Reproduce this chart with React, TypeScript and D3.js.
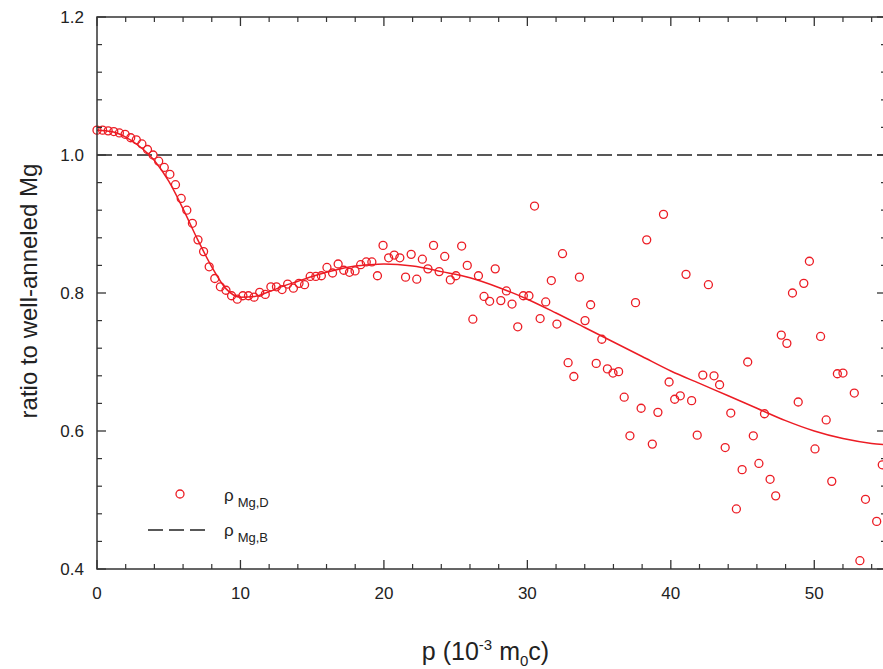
import React from "react";
import * as d3 from "d3";

// momentum p (10^-3 m0c) of the measured points
const pD: number[] = [
  0.0, 0.39, 0.78, 1.17, 1.56, 1.96, 2.35, 2.74, 3.13, 3.52,
  3.91, 4.3, 4.69, 5.08, 5.47, 5.87, 6.26, 6.65, 7.04, 7.43,
  7.82, 8.21, 8.6, 8.99, 9.38, 9.78, 10.17, 10.56, 10.95, 11.34,
  11.73, 12.12, 12.51, 12.9, 13.29, 13.69, 14.08, 14.47, 14.86, 15.25,
  15.64, 16.03, 16.42, 16.81, 17.2, 17.6, 17.99, 18.38, 18.77, 19.16,
  19.55, 19.94, 20.33, 20.72, 21.11, 21.51, 21.9, 22.29, 22.68, 23.07,
  23.46, 23.85, 24.24, 24.63, 25.02, 25.42, 25.81, 26.2, 26.59, 26.98,
  27.37, 27.76, 28.15, 28.54, 28.93, 29.33, 29.72, 30.11, 30.5, 30.89,
  31.28, 31.67, 32.06, 32.45, 32.84, 33.24, 33.63, 34.02, 34.41, 34.8,
  35.19, 35.58, 35.97, 36.36, 36.75, 37.15, 37.54, 37.93, 38.32, 38.71,
  39.1, 39.49, 39.88, 40.27, 40.66, 41.06, 41.45, 41.84, 42.23, 42.62,
  43.01, 43.4, 43.79, 44.18, 44.57, 44.97, 45.36, 45.75, 46.14, 46.53,
  46.92, 47.31, 47.7, 48.09, 48.48, 48.88, 49.27, 49.66, 50.05, 50.44,
  50.83, 51.22, 51.61, 52.0, 52.79, 53.18, 53.57, 54.35, 54.74,
];

// rho_Mg,D : ratio to well-annealed Mg
const rhoD: number[] = [
  1.036, 1.036, 1.035, 1.034, 1.032, 1.03, 1.025, 1.022, 1.016, 1.008,
  1.0, 0.991, 0.982, 0.972, 0.957, 0.937, 0.92, 0.901, 0.877, 0.86,
  0.838, 0.821, 0.809, 0.804, 0.796, 0.791, 0.796, 0.796, 0.794, 0.801,
  0.798, 0.809, 0.809, 0.805, 0.813, 0.807, 0.814, 0.812, 0.824, 0.824,
  0.825, 0.837, 0.829, 0.842, 0.833, 0.83, 0.832, 0.841, 0.845, 0.845,
  0.825, 0.869, 0.851, 0.855, 0.851, 0.823, 0.856, 0.82, 0.849, 0.835,
  0.869, 0.831, 0.853, 0.819, 0.825, 0.868, 0.84, 0.762, 0.825, 0.795,
  0.788, 0.835, 0.789, 0.803, 0.784, 0.751, 0.796, 0.796, 0.926, 0.763,
  0.787, 0.818, 0.755, 0.857, 0.699, 0.679, 0.823, 0.76, 0.783, 0.698,
  0.733, 0.69, 0.684, 0.686, 0.649, 0.593, 0.786, 0.633, 0.877, 0.581,
  0.627, 0.914, 0.671, 0.646, 0.651, 0.827, 0.644, 0.594, 0.681, 0.812,
  0.68, 0.667, 0.576, 0.626, 0.487, 0.544, 0.7, 0.593, 0.553, 0.625,
  0.53, 0.506, 0.739, 0.727, 0.8, 0.642, 0.814, 0.846, 0.574, 0.737,
  0.616, 0.527, 0.683, 0.684, 0.655, 0.412, 0.501, 0.469, 0.551,
];

// smooth fitted curve
const pFit: number[] = [0, 1, 2, 3, 4, 5, 6, 7, 8, 9, 10, 11, 12, 13, 14, 15, 16, 17, 18, 19, 20, 22, 24, 26, 28, 30, 32, 34, 36, 38, 40, 42, 44, 46, 48, 50, 52, 54, 55];
const rhoFit: number[] = [1.036, 1.034, 1.026, 1.012, 0.992, 0.962, 0.922, 0.878, 0.838, 0.806, 0.794, 0.795, 0.802, 0.81, 0.817, 0.824, 0.83, 0.835, 0.839, 0.841, 0.842, 0.839, 0.831, 0.822, 0.808, 0.791, 0.771, 0.75, 0.729, 0.708, 0.687, 0.669, 0.651, 0.633, 0.615, 0.6, 0.589, 0.582, 0.58];

// rho_Mg,B reference level
const rhoB = 1.0;

const xMajor: number[] = [0, 10, 20, 30, 40, 50];
const xMinor: number[] = [2, 4, 6, 8, 12, 14, 16, 18, 22, 24, 26, 28, 32, 34, 36, 38, 42, 44, 46, 48, 52, 54];
const yMajor: number[] = [0.4, 0.6, 0.8, 1.0, 1.2];
const yMinor: number[] = [0.44, 0.48, 0.52, 0.56, 0.64, 0.68, 0.72, 0.76, 0.84, 0.88, 0.92, 0.96, 1.04, 1.08, 1.12, 1.16];

const W = 883;
const H = 669;
const L = 97;
const R = 886;
const T = 17;
const B = 569;
const RED = "#ec1c24";
const AX = "#333";
const FONT = "Arial, 'Liberation Sans', Helvetica, sans-serif";

export default function App() {
  const x = d3.scaleLinear().domain([0, 55]).range([L, R]);
  const y = d3.scaleLinear().domain([0.4, 1.2]).range([B, T]);

  const fitLine = d3
    .line<number>()
    .x((_, i) => x(pFit[i]))
    .y((d) => y(d))
    .curve(d3.curveMonotoneX)(rhoFit) as string;

  const majorLen = 9;
  const minorLen = 5;

  return (
    <svg
      width={W}
      height={H}
      style={{ position: "absolute", left: 0, top: 0, background: "#fff" }}
      fontFamily={FONT}
    >
      <rect x={0} y={0} width={W} height={H} fill="#fff" />

      {/* reference dashed line */}
      <line x1={L} x2={R} y1={y(rhoB)} y2={y(rhoB)} stroke="#222" strokeWidth={1.4} strokeDasharray="15,5" />

      {/* fit curve */}
      <path d={fitLine} fill="none" stroke={RED} strokeWidth={1.5} />

      {/* data points */}
      {rhoD.map((v, i) => (
        <circle key={i} cx={x(pD[i])} cy={y(v)} r={4} fill="none" stroke={RED} strokeWidth={1.3} />
      ))}

      {/* frame */}
      <rect x={L} y={T} width={R - L} height={B - T} fill="none" stroke={AX} strokeWidth={1.5} />

      {/* x ticks (bottom + top, inward) */}
      {xMajor.map((v) => (
        <g key={"xM" + v}>
          <line x1={x(v)} x2={x(v)} y1={B} y2={B - majorLen} stroke={AX} strokeWidth={1.3} />
          <line x1={x(v)} x2={x(v)} y1={T} y2={T + majorLen} stroke={AX} strokeWidth={1.3} />
          <text x={x(v)} y={599} textAnchor="middle" fontSize={17} fill="#222">
            {v}
          </text>
        </g>
      ))}
      {xMinor.map((v) => (
        <g key={"xm" + v}>
          <line x1={x(v)} x2={x(v)} y1={B} y2={B - minorLen} stroke={AX} strokeWidth={1.2} />
          <line x1={x(v)} x2={x(v)} y1={T} y2={T + minorLen} stroke={AX} strokeWidth={1.2} />
        </g>
      ))}

      {/* y ticks (left + right, inward) */}
      {yMajor.map((v) => (
        <g key={"yM" + v}>
          <line x1={L} x2={L + majorLen} y1={y(v)} y2={y(v)} stroke={AX} strokeWidth={1.3} />
          <line x1={R} x2={R - majorLen} y1={y(v)} y2={y(v)} stroke={AX} strokeWidth={1.3} />
          <text x={84} y={y(v) + 6} textAnchor="end" fontSize={17} fill="#222">
            {d3.format(".1f")(v)}
          </text>
        </g>
      ))}
      {yMinor.map((v) => (
        <g key={"ym" + v}>
          <line x1={L} x2={L + minorLen} y1={y(v)} y2={y(v)} stroke={AX} strokeWidth={1.2} />
          <line x1={R} x2={R - minorLen} y1={y(v)} y2={y(v)} stroke={AX} strokeWidth={1.2} />
        </g>
      ))}

      {/* axis titles */}
      <text
        transform={`translate(37, ${(T + B) / 2 - 2}) rotate(-90)`}
        textAnchor="middle"
        fontSize={24}
        fill="#222"
      >
        ratio to well-anneled Mg
      </text>
      <text x={(L + R) / 2 - 6} y={660} textAnchor="middle" fontSize={25} fill="#222">
        p (10
        <tspan fontSize={15} dy={-10}>-3</tspan>
        <tspan dy={10}> m</tspan>
        <tspan fontSize={15} dy={6}>0</tspan>
        <tspan dy={-6}>c)</tspan>
      </text>

      {/* legend */}
      <circle cx={180} cy={494} r={4} fill="none" stroke={RED} strokeWidth={1.3} />
      <text x={224} y={501} fontSize={17} fill="#222">
        ρ
        <tspan fontSize={13} dx={4} dy={6}>Mg,D</tspan>
      </text>
      <line x1={148} x2={205} y1={530} y2={530} stroke="#222" strokeWidth={1.4} strokeDasharray="15,6" />
      <text x={224} y={536} fontSize={17} fill="#222">
        ρ
        <tspan fontSize={13} dx={4} dy={6}>Mg,B</tspan>
      </text>
    </svg>
  );
}
